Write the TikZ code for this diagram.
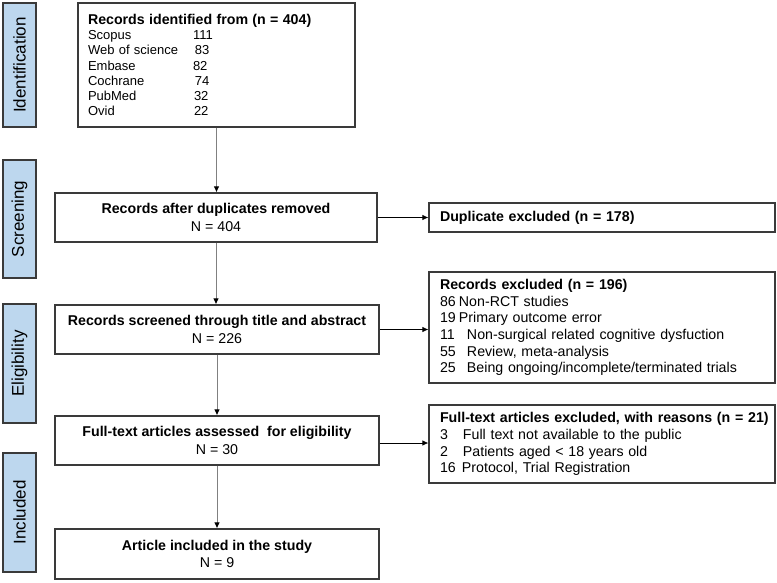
\documentclass[tikz,border=0pt]{standalone}
\usepackage{fontspec}
\setmainfont{Liberation Sans}
\usetikzlibrary{arrows.meta}
\definecolor{phase}{HTML}{BDD7EE}
\definecolor{edge}{HTML}{3A3A3A}
\newcommand{\rg}{\fontsize{14.2}{17.5}\selectfont}
\newcommand{\bd}{\fontsize{14.2}{15.3}\selectfont\bfseries}
\begin{document}
\begin{tikzpicture}[x=1pt, y=-1pt,
		phasebox/.style={draw=edge, line width=1.2pt, fill=phase, rotate=90, font=\fontsize{17}{18}\selectfont, inner sep=0pt, minimum height=33pt},
		mainbox/.style={draw=edge, line width=1.2pt, align=center, inner sep=0pt, minimum height=49pt, font=\rg},
		sidebox/.style={draw=edge, line width=1.2pt, align=left, inner xsep=11pt, inner ysep=0pt, text width=324pt, minimum width=346pt, font=\rg},
		down/.style={-{Latex[length=6pt,width=5.5pt,color=black]}, gray, line width=0.9pt},
		side/.style={-{Latex[length=6pt,width=5.5pt]}, black, line width=0.8pt}]
		
		\useasboundingbox (0,0) rectangle (777,582);
		
		% Fases
		\node[phasebox, minimum width=124pt] (p1) at (19.5,65) {Identification};
		\node[phasebox, minimum width=118pt] (p2) at (19.5,219) {Screening};
		\node[phasebox, minimum width=119pt] (p3) at (19.5,363.5) {Eligibility};
		\node[phasebox, minimum width=119pt] (p4) at (19.5,512.5) {Included};
		
		% Registros identificados
		\node[draw=edge, line width=1.2pt, align=left, minimum width=277pt, minimum height=124pt, text width=257pt, inner xsep=10pt, font=\fontsize{13}{15.3}\selectfont] (ident) at (216.5,65) {%
			{\bd Records identified from (n = 404)}\\
			\makebox[105pt][l]{Scopus}111\\
			\makebox[107pt][l]{Web of science}83\\
			\makebox[105pt][l]{Embase}82\\
			\makebox[107pt][l]{Cochrane}74\\
			\makebox[106pt][l]{PubMed}32\\
			\makebox[106pt][l]{Ovid}22};
		
		% Cajas centrales
		\node[mainbox, minimum width=322pt] (dup) at (216,217.5) {{\bd Records after duplicates removed}\\N = 404};
		\node[mainbox, minimum width=324pt] (scr) at (217,329.5) {{\bd Records screened through title and abstract}\\N = 226};
		\node[mainbox, minimum width=324pt] (full) at (217,440.5) {{\bd Full-text articles assessed\ \ for eligibility}\\N = 30};
		\node[mainbox, minimum width=324pt, minimum height=50pt] (incl) at (217,554) {{\bd Article included in the study}\\N = 9};
		
		% Cajas de exclusion
		\node[sidebox, minimum height=29pt] (dupex) at (602,217.5) {\bd Duplicate excluded (n = 178)};
		\node[sidebox, minimum height=111pt, font=\fontsize{14.2}{16.6}\selectfont] (recex) at (602,327.5) {%
			{\bd Records excluded (n = 196)}\\
			\makebox[19pt][l]{86}Non-RCT studies\\
			\makebox[19pt][l]{19}Primary outcome error\\
			\makebox[27pt][l]{11}Non-surgical related cognitive dysfuction\\
			\makebox[27pt][l]{55}Review, meta-analysis\\
			\makebox[27pt][l]{25}Being ongoing/incomplete/terminated trials};
		\node[sidebox, minimum height=78pt, font=\fontsize{14.2}{16.8}\selectfont] (fullex) at (602,444) {%
			\makebox[0pt][l]{\bd Full-text articles excluded, with reasons (n = 21)}\\
			\makebox[23pt][l]{3}Full text not available to the public\\
			\makebox[23pt][l]{2}Patients aged < 18 years old\\
			\makebox[22pt][l]{16}Protocol, Trial Registration};
		
		% Flechas verticales
		\draw[down] (ident.south) -- (ident.south |- dup.north);
		\draw[down] (dup.south) -- (dup.south |- scr.north);
		\draw[down] (scr.south) -- (scr.south |- full.north);
		\draw[down] (full.south) -- (full.south |- incl.north);
		
		% Flechas laterales
		\draw[side] (dup.east) -- (dupex.west);
		\draw[side] (scr.east) -- (scr.east -| recex.west);
		\draw[side] ([yshift=-2.5pt]full.east) -- ([yshift=-2.5pt]full.east -| fullex.west);
		
	\end{tikzpicture}
\end{document}
